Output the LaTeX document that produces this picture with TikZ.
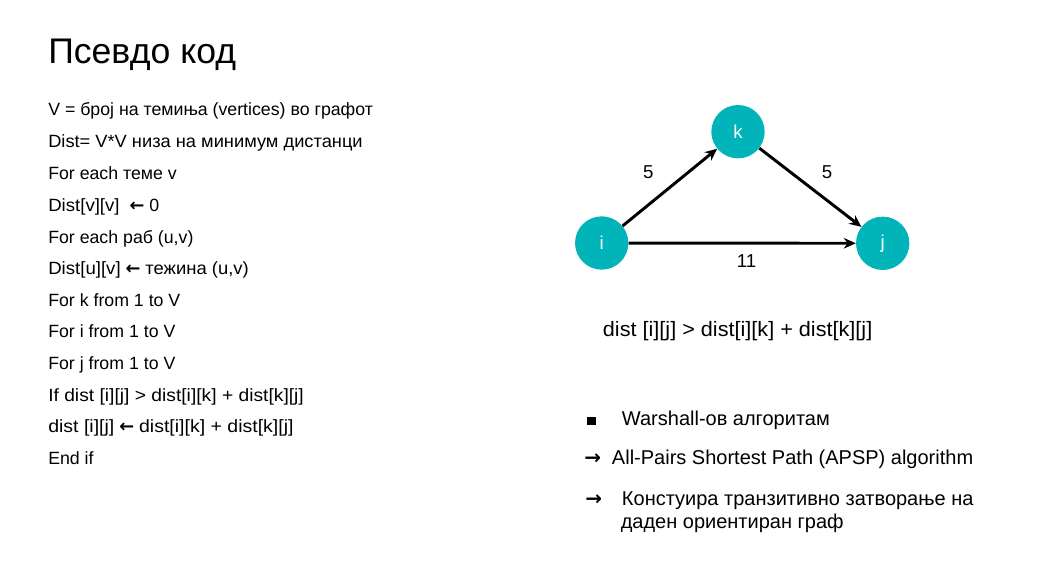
\documentclass[tikz,border=0pt]{standalone}
\usepackage{fontspec}
\usepackage{graphicx}
\setmainfont{Liberation Sans}
\newfontfamily\arrowfont{DejaVu Sans}
\usetikzlibrary{arrows.meta}
\definecolor{teal1}{RGB}{0,180,186}
\newcommand\myarrL{{\arrowfont\bfseries ←}}
\newcommand\myarrR{{\arrowfont\bfseries →}}
\newcommand\sx[2]{\scalebox{#1}[1]{#2}}
\begin{document}
\begin{tikzpicture}[x=0.75pt,y=-0.75pt,
  txt/.style={anchor=base west,inner sep=0pt,font=\fontsize{13.3}{15}\selectfont},
  rtxt/.style={anchor=base west,inner sep=0pt,font=\fontsize{15}{18}\selectfont},
  vtx/.style={circle,fill=teal1,minimum size=40pt,inner sep=0pt,text=white,font=\fontsize{14}{16}\selectfont},
  edge/.style={line width=2.2pt,-{Stealth[length=9pt,width=8pt]}},
  lbl/.style={inner sep=0pt,font=\fontsize{14}{16}\selectfont}]
\path[use as bounding box,fill=white] (0,0) rectangle (1058,572);
\node[anchor=base west,inner sep=0pt,font=\fontsize{26.7}{30}\selectfont] (title) at (48,63) {Псевдо код};
\node[txt] (l1) at (48,115.5) {V = број на темиња (vertices) во графот};
\node[txt] (l2) at (48,147.5) {\sx{1.03}{Dist= V*V низа на минимум дистанци}};
\node[txt] (l3) at (48,179.5) {For each теме v};
\node[txt] (l4) at (48,211) {\sx{1.05}{Dist[v][v]}~~\myarrL{} 0};
\node[txt] (l5) at (48,243) {For each раб (u,v)};
\node[txt] (l6) at (48,274.5) {\sx{1.05}{Dist[u][v]} \myarrL{} \sx{1.04}{тежина (u,v)}};
\node[txt] (l7) at (48,306) {For k from 1 to V};
\node[txt] (l8) at (48,337.5) {For i from 1 to V};
\node[txt] (l9) at (48,369) {For j from 1 to V};
\node[txt] (l10) at (48,401) {\sx{1.085}{If dist [i][j] > dist[i][k] + dist[k][j]}};
\node[txt] (l11) at (48,432.5) {\sx{1.1}{dist [i][j]} \myarrL{} \sx{1.1}{dist[i][k] + dist[k][j]}};
\node[txt] (l12) at (48,464) {End if};
% graph
\node[vtx] (i) at (601.7,243) {i};
\node[vtx] (k) at (738,131.7) {k};
\node[vtx] (j) at (882.7,243.3) {j};
\draw[edge] (i) -- (k);
\draw[edge] (k) -- (j);
\draw[edge] (i) -- (j);
\node[lbl] (w1) at (648.3,172) {5};
\node[lbl] (w2) at (827,172) {5};
\node[lbl] (w3) at (746.5,261.5) {11};
\node[anchor=base west,inner sep=0pt,font=\fontsize{15.6}{18}\selectfont] (cond) at (602.7,336.5) {\sx{1.04}{dist [i][j] > dist[i][k] + dist[k][j]}};
% bullets
\fill[black] (587,416.5) rectangle (596,425);
\node[rtxt] (b1) at (621.7,425.5) {Warshall-ов алгоритам};
\node[rtxt] (a2) at (584,464.5) {\myarrR};
\node[rtxt] (b2) at (611.7,464.5) {All-Pairs Shortest Path (APSP) algorithm};
\node[rtxt] (a3) at (585,505) {\myarrR};
\node[rtxt] (b3) at (621.7,505) {Констуира транзитивно затворање на};
\node[rtxt] (b4) at (620.5,528) {даден ориентиран граф};
\end{tikzpicture}
\end{document}
